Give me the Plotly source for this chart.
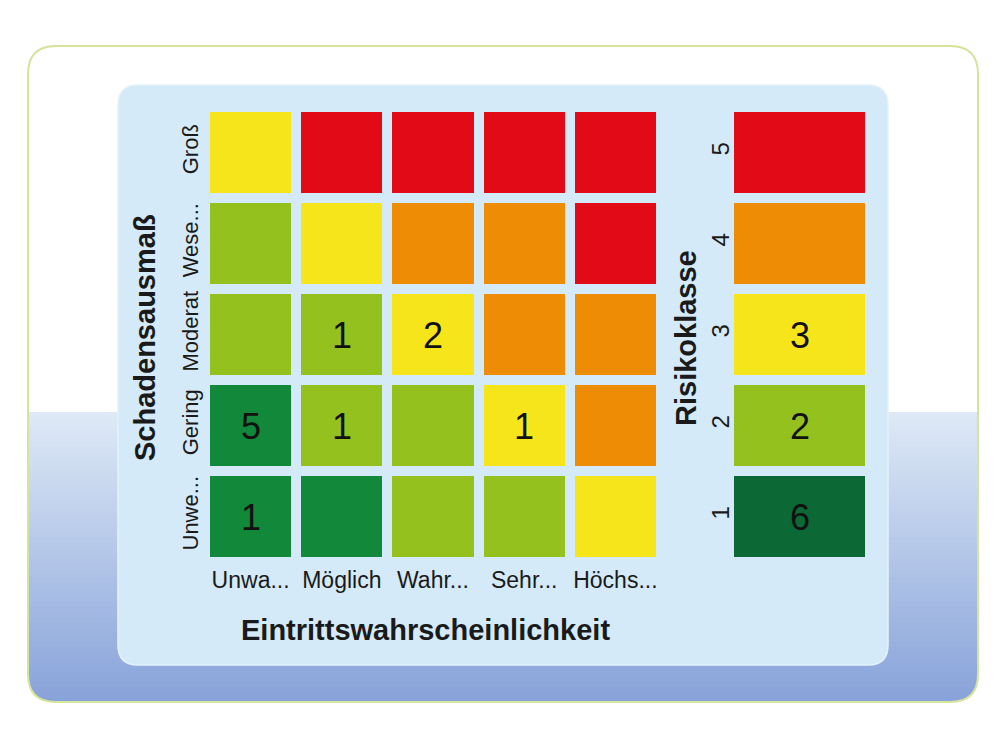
import plotly.graph_objects as go

# ---------------- data ----------------
x_labels = ["Unwa...", "Möglich", "Wahr...", "Sehr...", "Höchs..."]
y_labels = ["Unwe...", "Gering", "Moderat", "Wese...", "Groß"]  # bottom -> top

# risk class of each cell (rows bottom -> top)
risk_class = [
    [1, 1, 2, 2, 3],
    [1, 2, 2, 3, 4],
    [2, 2, 3, 4, 4],
    [2, 3, 4, 4, 5],
    [3, 5, 5, 5, 5],
]
# number of risks in each cell (rows bottom -> top)
counts = [
    [1, 0, 0, 0, 0],
    [5, 1, 0, 1, 0],
    [0, 1, 2, 0, 0],
    [0, 0, 0, 0, 0],
    [0, 0, 0, 0, 0],
]

class_labels = ["1", "2", "3", "4", "5"]
class_counts = [6, 2, 3, 0, 0]

matrix_colors = ["#12893a", "#95c11f", "#f6e51b", "#ef8c05", "#e30a17"]
class_colors = ["#0c6834", "#95c11f", "#f6e51b", "#ef8c05", "#e30a17"]

FONT = "Liberation Sans, Arial, sans-serif"


def discrete_scale(colors):
    n = len(colors)
    scale = []
    for i, c in enumerate(colors):
        scale.append([i / n, c])
        scale.append([(i + 1) / n, c])
    return scale


def txt(v):
    return "" if v == 0 else str(v)


fig = go.Figure()

fig.add_trace(go.Heatmap(
    x=x_labels, y=y_labels, z=risk_class,
    text=[[txt(v) for v in row] for row in counts],
    texttemplate="%{text}",
    textfont=dict(size=36, color="#111111", family=FONT),
    colorscale=discrete_scale(matrix_colors), zmin=0.5, zmax=5.5,
    showscale=False, xgap=10, ygap=10, hoverinfo="skip",
    xaxis="x", yaxis="y",
))

fig.add_trace(go.Heatmap(
    x=["Risikoklasse"], y=class_labels, z=[[i + 1] for i in range(len(class_labels))],
    text=[[txt(v)] for v in class_counts],
    texttemplate="%{text}",
    textfont=dict(size=36, color="#111111", family=FONT),
    colorscale=discrete_scale(class_colors), zmin=0.5, zmax=5.5,
    showscale=False, xgap=10, ygap=10, hoverinfo="skip",
    xaxis="x2", yaxis="y2",
))


# ---------------- background decoration ----------------
W, H = 1000, 750


def fx(x):
    return x / W


def fy(y):
    return 1 - y / H


def rounded_path(x0, y0, x1, y1, r):
    pts = [
        f"M {fx(x0 + r)},{fy(y0)}",
        f"L {fx(x1 - r)},{fy(y0)}",
        f"Q {fx(x1)},{fy(y0)} {fx(x1)},{fy(y0 + r)}",
        f"L {fx(x1)},{fy(y1 - r)}",
        f"Q {fx(x1)},{fy(y1)} {fx(x1 - r)},{fy(y1)}",
        f"L {fx(x0 + r)},{fy(y1)}",
        f"Q {fx(x0)},{fy(y1)} {fx(x0)},{fy(y1 - r)}",
        f"L {fx(x0)},{fy(y0 + r)}",
        f"Q {fx(x0)},{fy(y0)} {fx(x0 + r)},{fy(y0)}",
        "Z",
    ]
    return " ".join(pts)


shapes = []
FX0, FY0, FX1, FY1, FR = 28, 46, 978, 702, 28

# frame white fill
shapes.append(dict(type="path", path=rounded_path(FX0, FY0, FX1, FY1, FR),
                   xref="paper", yref="paper", fillcolor="white",
                   line=dict(width=0), layer="below"))

# gradient band in the lower part of the frame
g_top, g_bot = 412, FY1
c_top = (222, 233, 246)
c_bot = (136, 163, 218)
n = 58
step = (g_bot - g_top) / n
for i in range(n):
    t = i / (n - 1)
    c = tuple(round(a + (b - a) * t) for a, b in zip(c_top, c_bot))
    shapes.append(dict(type="rect", xref="paper", yref="paper",
                       x0=fx(FX0), x1=fx(FX1),
                       y0=fy(g_top + (i + 1) * step + 0.6), y1=fy(g_top + i * step),
                       fillcolor=f"rgb{c}", line=dict(width=0), layer="below"))

# white masks for the rounded bottom corners
for (cx, sx) in [(FX0, 1), (FX1, -1)]:
    p = (f"M {fx(cx)},{fy(FY1 - FR)} "
         f"Q {fx(cx)},{fy(FY1)} {fx(cx + sx * FR)},{fy(FY1)} "
         f"L {fx(cx + sx * FR)},{fy(FY1 + 3)} L {fx(cx - sx * 3)},{fy(FY1 + 3)} "
         f"L {fx(cx - sx * 3)},{fy(FY1 - FR)} Z")
    shapes.append(dict(type="path", path=p, xref="paper", yref="paper",
                       fillcolor="white", line=dict(width=0), layer="below"))

# frame border
shapes.append(dict(type="path", path=rounded_path(FX0, FY0, FX1, FY1, FR),
                   xref="paper", yref="paper", fillcolor="rgba(0,0,0,0)",
                   line=dict(width=2, color="#d5e39c"), layer="below"))

# inner light-blue panel
shapes.append(dict(type="path", path=rounded_path(118, 85, 888, 665, 20),
                   xref="paper", yref="paper", fillcolor="#d4eaf8",
                   line=dict(width=1.5, color="#e4f2fb"), layer="below"))

# ---------------- layout ----------------
ydom = [fy(562), fy(107)]
title_font = dict(size=29, color="#1a1a1a", family=FONT)

fig.update_layout(
    width=W, height=H,
    margin=dict(l=0, r=0, t=0, b=0),
    paper_bgcolor="white", plot_bgcolor="rgba(0,0,0,0)",
    shapes=shapes,
    xaxis=dict(domain=[fx(205), fx(661)], anchor="y", showgrid=False, zeroline=False,
               showline=False, ticks="", ticklabelstandoff=2,
               tickfont=dict(size=23, color="#1a1a1a", family=FONT), fixedrange=True),
    yaxis=dict(domain=ydom, anchor="x", showgrid=False, zeroline=False,
               showline=False, ticks="", ticklabelstandoff=2,
               tickangle=-90, tickfont=dict(size=22, color="#1a1a1a", family=FONT),
               fixedrange=True),
    xaxis2=dict(domain=[fx(729), fx(870)], anchor="y2", showgrid=False, zeroline=False,
                showline=False, showticklabels=False, fixedrange=True),
    yaxis2=dict(domain=ydom, anchor="x2", showgrid=False, zeroline=False,
                showline=False, ticks="", ticklabelstandoff=-6,
                tickangle=-90, tickfont=dict(size=24, color="#1a1a1a", family=FONT),
                fixedrange=True),
    annotations=[
        dict(text="<b>Schadensausmaß</b>", x=fx(145), y=fy(338), xref="paper", yref="paper",
             xanchor="center", yanchor="middle",
             textangle=-90, showarrow=False, font=title_font),
        dict(text="<b>Eintrittswahrscheinlichkeit</b>", x=fx(425), y=fy(630), xref="paper",
             yref="paper", xanchor="center", yanchor="middle",
             showarrow=False, font=title_font),
        dict(text="<b>Risikoklasse</b>", x=fx(686), y=fy(338), xref="paper", yref="paper",
             xanchor="center", yanchor="middle",
             textangle=-90, showarrow=False, font=title_font),
    ],
    showlegend=False,
)

fig.write_html("out.html")
